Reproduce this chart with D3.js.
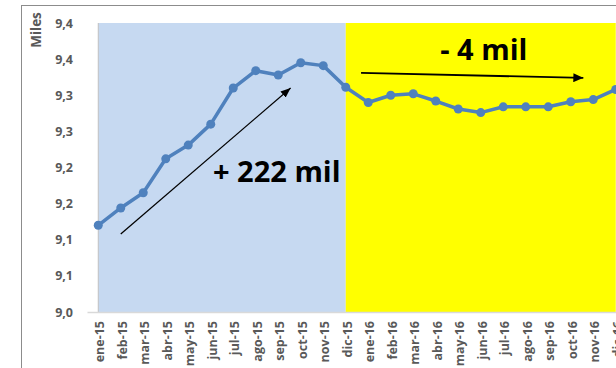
<!DOCTYPE html>
<html><head><meta charset="utf-8">
<script src="https://cdn.jsdelivr.net/npm/d3@7/dist/d3.min.js"></script>
<style>body{margin:0;background:#fff;} svg{display:block;}</style>
</head><body><svg id="c" width="616" height="368"></svg>
<script>
const categories = ["ene-15","feb-15","mar-15","abr-15","may-15","jun-15","jul-15","ago-15","sep-15","oct-15","nov-15","dic-15",
                    "ene-16","feb-16","mar-16","abr-16","may-16","jun-16","jul-16","ago-16","sep-16","oct-16","nov-16","dic-16"];
const values = [9.120, 9.144, 9.165, 9.212, 9.231, 9.260, 9.310, 9.334, 9.328, 9.345, 9.341, 9.311,
                9.290, 9.300, 9.302, 9.292, 9.281, 9.276, 9.284, 9.284, 9.284, 9.291, 9.294, 9.308];
const yTickValues = [9.00, 9.05, 9.10, 9.15, 9.20, 9.25, 9.30, 9.35, 9.40];
const yTickLabels = ["9,0","9,1","9,1","9,2","9,2","9,3","9,3","9,4","9,4"];
const shadeLevel = 9.4;
const shadeBlueCats = categories.slice(0, 12);
const shadeYellowCats = categories.slice(11);
const yAxisTitle = "Miles";
// annotation arrows in data space: [category index, value]
const arrowUp = {from: [1.0, 9.108], to: [8.55, 9.310]};
const arrowFlat = {from: [11.68, 9.331], to: [21.56, 9.324]};
const labelUp = {text: "+ 222 mil", at: [5.1, 9.180]};
const labelFlat = {text: "- 4 mil", at: [15.2, 9.349]};

const svg = d3.select("#c");
const x = d3.scalePoint().domain(categories).range([87, 627]).padding(0.5);
const y = d3.scaleLinear().domain([9.0, 9.4]).range([312, 23]);
const xi = d3.scaleLinear().domain([0, categories.length - 1]).range([x(categories[0]), x(categories[categories.length - 1])]);

// outer chart border
svg.append("rect").attr("x", 21.5).attr("y", 5.5).attr("width", 700).attr("height", 500)
  .attr("fill", "none").attr("stroke", "#8c8c8c").attr("stroke-width", 1);

const area = d3.area().x(d => x(d)).y0(y(9.0)).y1(y(shadeLevel));
svg.append("path").datum(shadeBlueCats).attr("d", area).attr("fill", "#c6d9f1");
svg.append("path").datum(shadeYellowCats).attr("d", area).attr("fill", "#ffff00");
svg.append("line").attr("x1", x(categories[0])).attr("x2", x(categories[0]))
  .attr("y1", y(shadeLevel)).attr("y2", y(9.0)).attr("stroke", "#c0c0c0").attr("stroke-width", 1);

// axes
const font = "'Open Sans', sans-serif";
const gy = svg.append("g").attr("transform", "translate(87,0)")
  .call(d3.axisLeft(y).tickValues(yTickValues).tickFormat((d, i) => yTickLabels[i]).tickSize(0).tickPadding(14));
gy.select(".domain").remove();
gy.selectAll("text").attr("font-family", font).attr("font-weight", "bold").attr("font-size", 12.5).attr("fill", "#595959");

const gx = svg.append("g").attr("transform", `translate(0,${y(9.0)})`)
  .call(d3.axisBottom(x).tickSize(0).tickSizeOuter(0));
gx.select(".domain").attr("stroke", "#d9d9d9").attr("stroke-width", 1.5);
gx.selectAll("text").attr("font-family", font).attr("font-weight", "bold").attr("font-size", 12.5).attr("fill", "#595959")
  .attr("text-anchor", "end").attr("dy", null).attr("y", 0)
  .attr("transform", "translate(1,9) rotate(-90)").attr("dominant-baseline", "central");

svg.append("text").attr("transform", "translate(36,30) rotate(-90)")
  .attr("text-anchor", "middle").attr("dominant-baseline", "central")
  .attr("font-family", font).attr("font-weight", "bold").attr("font-size", 13.5).attr("fill", "#595959")
  .text(yAxisTitle);

// series line
const line = d3.line().x((d, i) => x(categories[i])).y(d => y(d));
svg.append("path").datum(values).attr("d", line).attr("fill", "none")
  .attr("stroke", "#4f81bd").attr("stroke-width", 3.5).attr("stroke-linejoin", "round");
svg.selectAll("circle.m").data(values).join("circle").attr("class", "m")
  .attr("cx", (d, i) => x(categories[i])).attr("cy", d => y(d)).attr("r", 4.5).attr("fill", "#4f81bd");

// arrows
const defs = svg.append("defs");
function mk(id, w, h) {
  defs.append("marker").attr("id", id).attr("markerUnits", "userSpaceOnUse")
    .attr("markerWidth", w).attr("markerHeight", h).attr("refX", w).attr("refY", h / 2).attr("orient", "auto")
    .append("path").attr("d", `M0,0L${w},${h/2}L0,${h}Z`).attr("fill", "#000");
}
mk("a1", 10, 8); mk("a2", 10, 9);
function arrow(a, id, sw) {
  svg.append("line").attr("x1", xi(a.from[0])).attr("y1", y(a.from[1]))
    .attr("x2", xi(a.to[0])).attr("y2", y(a.to[1]))
    .attr("stroke", "#000").attr("stroke-width", sw).attr("marker-end", `url(#${id})`);
}
arrow(arrowUp, "a1", 1.25);
arrow(arrowFlat, "a2", 1.8);

function label(l) {
  svg.append("text").attr("x", xi(l.at[0])).attr("y", y(l.at[1]))
    .attr("font-family", font).attr("font-weight", "bold").attr("font-size", 29).attr("fill", "#000")
    .text(l.text);
}
label(labelUp); label(labelFlat);
</script></body></html>
